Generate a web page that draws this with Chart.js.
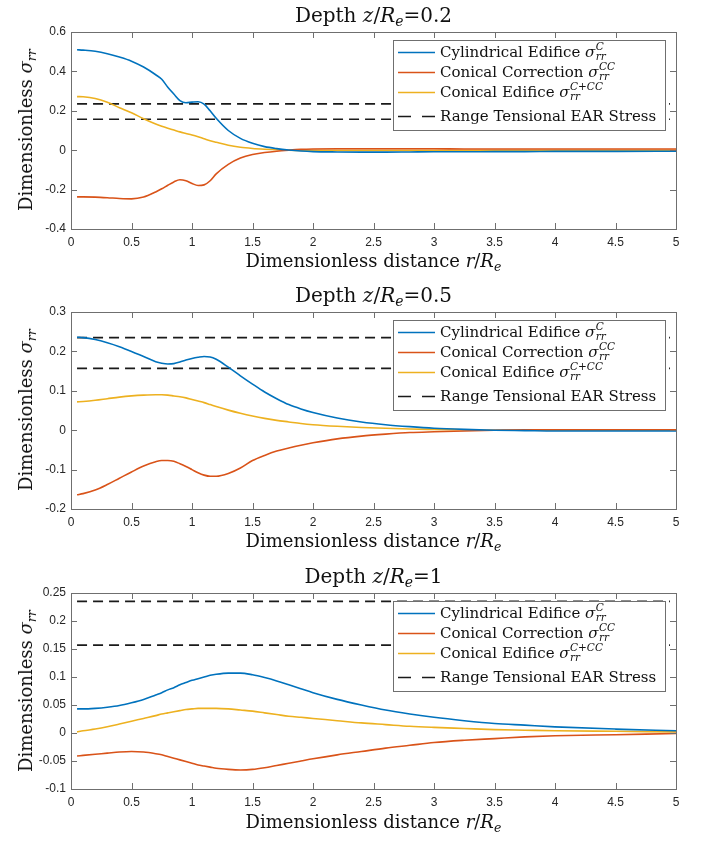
<!DOCTYPE html>
<html>
<head>
<meta charset="utf-8">
<script src="https://cdn.jsdelivr.net/npm/chart.js@4.4.1/dist/chart.umd.min.js"></script>
<style>
  body { margin: 0; background: #fff; }
  #fig { position: relative; width: 704px; height: 841px; overflow: hidden; }
  #fig canvas { position: absolute; left: 0; }
  .ttl, .xl, .yl {
    position: absolute;
    font-family: 'DejaVu Serif', 'Liberation Serif', serif;
    color: #111;
    white-space: nowrap;
    line-height: 1;
  }
  .ttl { left: 71px; width: 605px; text-align: center; font-size: 20px; }
  .xl { left: 71px; width: 605px; text-align: center; font-size: 18px; }
  .yl { left: 26px; font-size: 18px; transform: translate(-50%, -50%) rotate(-90deg); }
  sub { font-size: 0.7em; vertical-align: -0.3em; line-height: 0; }
</style>
</head>
<body>
<div id="fig"></div>
<script>
// radial distance r/Re where the curves were sampled
const rOverRe = [0.05, 0.1, 0.2, 0.3, 0.4, 0.5, 0.6, 0.7, 0.75, 0.8, 0.85, 0.9, 0.95, 1.0, 1.05,
                 1.1, 1.15, 1.2, 1.3, 1.4, 1.5, 1.6, 1.7, 1.8, 1.9, 2.0, 2.2, 2.4, 2.6, 2.8,
                 3.0, 3.25, 3.5, 3.75, 4.0, 4.5, 5.0];

// depth z/Re = 0.2
const cylZ02  = [0.510, 0.508, 0.502, 0.490, 0.473, 0.452, 0.422, 0.383, 0.360, 0.320, 0.285,
                 0.252, 0.241, 0.244, 0.246, 0.234, 0.200, 0.162, 0.100, 0.060, 0.035, 0.018,
                 0.008, 0.001, -0.004, -0.007, -0.009, -0.010, -0.010, -0.009, -0.008, -0.008,
                 -0.007, -0.007, -0.006, -0.006, -0.005];
const corrZ02 = [-0.237, -0.237, -0.238, -0.241, -0.245, -0.247, -0.238, -0.212, -0.196, -0.178,
                 -0.161, -0.150, -0.155, -0.169, -0.179, -0.176, -0.155, -0.120, -0.072, -0.040,
                 -0.022, -0.012, -0.005, 0.000, 0.004, 0.006, 0.007, 0.007, 0.007, 0.007, 0.007,
                 0.006, 0.006, 0.006, 0.006, 0.006, 0.006];
const coneZ02 = [0.272, 0.271, 0.262, 0.243, 0.216, 0.190, 0.160, 0.133, 0.121, 0.111, 0.102,
                 0.093, 0.085, 0.077, 0.068, 0.058, 0.048, 0.040, 0.025, 0.015, 0.009, 0.005,
                 0.002, 0.000, -0.001, -0.001, -0.001, -0.001, -0.001, -0.001, -0.001, -0.001,
                 -0.001, -0.001, -0.001, -0.001, -0.001];

// depth z/Re = 0.5
const cylZ05  = [0.236, 0.235, 0.230, 0.222, 0.212, 0.200, 0.187, 0.174, 0.170, 0.168, 0.169,
                 0.173, 0.178, 0.182, 0.185, 0.187, 0.186, 0.180, 0.160, 0.138, 0.117, 0.097,
                 0.080, 0.065, 0.054, 0.045, 0.031, 0.021, 0.014, 0.009, 0.005, 0.002, 0.000,
                 -0.001, -0.002, -0.002, -0.002];
const corrZ05 = [-0.164, -0.161, -0.152, -0.138, -0.122, -0.106, -0.091, -0.080, -0.077, -0.077,
                 -0.079, -0.085, -0.092, -0.100, -0.108, -0.114, -0.117, -0.117, -0.110, -0.096,
                 -0.077, -0.064, -0.053, -0.045, -0.038, -0.032, -0.022, -0.015, -0.010, -0.006,
                 -0.004, -0.002, 0.000, 0.001, 0.001, 0.001, 0.001];
const coneZ05 = [0.072, 0.073, 0.076, 0.080, 0.084, 0.087, 0.089, 0.090, 0.090, 0.089, 0.087,
                 0.085, 0.082, 0.078, 0.074, 0.070, 0.065, 0.060, 0.051, 0.043, 0.036, 0.030,
                 0.025, 0.021, 0.017, 0.014, 0.010, 0.007, 0.005, 0.003, 0.002, 0.001, 0.000,
                 0.000, 0.000, 0.000, 0.000];

// depth z/Re = 1
const cylZ1   = [0.043, 0.043, 0.044, 0.046, 0.049, 0.054, 0.060, 0.068, 0.072, 0.077, 0.081,
                 0.086, 0.090, 0.094, 0.097, 0.100, 0.103, 0.105, 0.107, 0.107, 0.104, 0.099,
                 0.093, 0.086, 0.079, 0.072, 0.060, 0.050, 0.041, 0.034, 0.028, 0.022, 0.017,
                 0.014, 0.011, 0.007, 0.004];
const corrZ1  = [-0.041, -0.040, -0.038, -0.036, -0.034, -0.033, -0.034, -0.037, -0.039, -0.042,
                 -0.045, -0.048, -0.051, -0.054, -0.057, -0.059, -0.061, -0.063, -0.065, -0.066,
                 -0.065, -0.062, -0.058, -0.054, -0.050, -0.046, -0.039, -0.033, -0.027, -0.022,
                 -0.017, -0.013, -0.010, -0.007, -0.005, -0.003, -0.001];
const coneZ1  = [0.002, 0.004, 0.007, 0.011, 0.016, 0.021, 0.026, 0.031, 0.034, 0.036, 0.038,
                 0.040, 0.042, 0.043, 0.044, 0.044, 0.044, 0.044, 0.043, 0.041, 0.039, 0.036,
                 0.033, 0.030, 0.028, 0.026, 0.022, 0.018, 0.015, 0.012, 0.010, 0.008, 0.006,
                 0.005, 0.004, 0.003, 0.002];

// tensional EAR stress range (upper, lower) and the r/Re span of the dashed guides
const earRange = [0.235, 0.157];
const earSpan = [0.05, 4.95];

const depths = ['0.2', '0.5', '1'];
const xTicks = [0, 0.5, 1, 1.5, 2, 2.5, 3, 3.5, 4, 4.5, 5];
const yTicksZ02 = [-0.4, -0.2, 0, 0.2, 0.4, 0.6];
const yTicksZ05 = [-0.2, -0.1, 0, 0.1, 0.2, 0.3];
const yTicksZ1 = [-0.1, -0.05, 0, 0.05, 0.1, 0.15, 0.2, 0.25];

const seriesNames = ['Cylindrical Edifice', 'Conical Correction', 'Conical Edifice', 'Range Tensional EAR Stress'];
const sigmaSup = ['C', 'CC', 'C+CC', null];
const lineColors = ['#0072BD', '#D95319', '#EDB120', '#1a1a1a'];

const SERIF = '"DejaVu Serif", "Liberation Serif", serif';
const AXIS_COLOR = '#6f6f6f';

Chart.defaults.font.family = "'Liberation Sans', Arial, sans-serif";
Chart.defaults.font.size = 12;
Chart.defaults.color = '#262626';

// legend box in the upper right corner, with the sigma symbols typeset by hand
const sigmaLegend = {
  id: 'sigmaLegend',
  afterDatasetsDraw(chart) {
    const { ctx, chartArea } = chart;
    const w = 272, h = 90;
    const x0 = chartArea.right - 11 - w;
    const y0 = chartArea.top + 8;
    const baselines = [17, 37, 57, 81];

    ctx.save();
    ctx.fillStyle = '#fff';
    ctx.fillRect(x0, y0, w, h);
    ctx.strokeStyle = AXIS_COLOR;
    ctx.lineWidth = 1;
    ctx.strokeRect(Math.round(x0) + 0.5, Math.round(y0) + 0.5, w, h);

    seriesNames.forEach((name, i) => {
      const by = y0 + baselines[i];
      const ly = Math.round(by - 5) + 0.5;
      ctx.strokeStyle = lineColors[i];
      ctx.lineWidth = 1.6;
      ctx.setLineDash(i === 3 ? [13, 11] : []);
      ctx.beginPath();
      ctx.moveTo(x0 + 5, ly);
      ctx.lineTo(x0 + 42, ly);
      ctx.stroke();
      ctx.setLineDash([]);

      ctx.fillStyle = '#111';
      ctx.textBaseline = 'alphabetic';
      ctx.textAlign = 'left';
      let tx = x0 + 47;
      ctx.font = '15px ' + SERIF;
      const text = sigmaSup[i] ? name + ' ' : name;
      ctx.fillText(text, tx, by);
      if (sigmaSup[i]) {
        tx += ctx.measureText(text).width;
        ctx.font = 'italic 15px ' + SERIF;
        ctx.fillText('σ', tx, by);
        tx += ctx.measureText('σ').width + 0.5;
        ctx.font = 'italic 10.5px ' + SERIF;
        ctx.fillText(sigmaSup[i], tx, by - 7);
        ctx.fillText('rr', tx, by + 3);
      }
    });
    ctx.restore();
  }
};

// box around the axes with inward ticks on all four sides
const boxTicks = {
  id: 'boxTicks',
  afterDraw(chart) {
    const { ctx, chartArea: a, scales } = chart;
    const len = 6;
    ctx.save();
    ctx.strokeStyle = AXIS_COLOR;
    ctx.lineWidth = 1;
    ctx.beginPath();
    scales.x.ticks.forEach(t => {
      const px = Math.round(scales.x.getPixelForValue(t.value)) + 0.5;
      if (px <= a.left + 1 || px >= a.right - 1) return;
      ctx.moveTo(px, a.bottom); ctx.lineTo(px, a.bottom - len);
      ctx.moveTo(px, a.top); ctx.lineTo(px, a.top + len);
    });
    scales.y.ticks.forEach(t => {
      const py = Math.round(scales.y.getPixelForValue(t.value)) + 0.5;
      if (py <= a.top + 1 || py >= a.bottom - 1) return;
      ctx.moveTo(a.left, py); ctx.lineTo(a.left + len, py);
      ctx.moveTo(a.right, py); ctx.lineTo(a.right - len, py);
    });
    ctx.stroke();
    ctx.strokeRect(Math.round(a.left) + 0.5, Math.round(a.top) + 0.5,
                   Math.round(a.right - a.left), Math.round(a.bottom - a.top));
    ctx.restore();
  }
};

function curve(ys) {
  return rOverRe.map((x, i) => ({ x: x, y: ys[i] }));
}

function makePanel(index, top, series, yTicks, axisHeight) {
  const fig = document.getElementById('fig');

  const canvas = document.createElement('canvas');
  canvas.width = 704;
  canvas.height = 280;
  canvas.style.top = top + 'px';
  fig.appendChild(canvas);

  const title = document.createElement('div');
  title.className = 'ttl';
  title.style.top = (top + 5) + 'px';
  title.innerHTML = 'Depth <i>z</i>/<i>R</i><sub><i>e</i></sub>=' + depths[index];
  fig.appendChild(title);

  const xl = document.createElement('div');
  xl.className = 'xl';
  xl.style.top = (top + 252) + 'px';
  xl.innerHTML = 'Dimensionless distance <i>r</i>/<i>R</i><sub><i>e</i></sub>';
  fig.appendChild(xl);

  const yl = document.createElement('div');
  yl.className = 'yl';
  yl.style.top = (top + 130) + 'px';
  yl.innerHTML = 'Dimensionless <i>σ</i><sub><i>rr</i></sub>';
  fig.appendChild(yl);

  const datasets = series.map((ys, i) => ({
    label: seriesNames[i],
    data: curve(ys),
    borderColor: lineColors[i],
    borderWidth: 1.6,
    cubicInterpolationMode: 'monotone'
  }));
  earRange.forEach(v => {
    datasets.push({
      label: seriesNames[3],
      data: earSpan.map(x => ({ x: x, y: v })),
      borderColor: lineColors[3],
      borderWidth: 1.6,
      borderDash: [10, 6]
    });
  });

  new Chart(canvas, {
    type: 'line',
    data: { datasets: datasets },
    options: {
      responsive: false,
      animation: false,
      devicePixelRatio: 1,
      layout: { padding: { top: 32, right: 28, left: 0, bottom: 0 } },
      elements: { point: { radius: 0 } },
      plugins: { legend: { display: false }, tooltip: { enabled: false } },
      scales: {
        x: {
          type: 'linear',
          min: 0,
          max: 5,
          grid: { display: false, drawTicks: false },
          border: { display: false },
          ticks: { padding: 6, maxRotation: 0, callback: v => String(v) },
          afterBuildTicks: s => { s.ticks = xTicks.map(v => ({ value: v })); },
          afterFit: s => { s.height = axisHeight; }
        },
        y: {
          type: 'linear',
          min: yTicks[0],
          max: yTicks[yTicks.length - 1],
          grid: { display: false, drawTicks: false },
          border: { display: false },
          ticks: { padding: 5, callback: v => String(v) },
          afterBuildTicks: s => { s.ticks = yTicks.map(v => ({ value: v })); },
          afterFit: s => { s.width = 71; }
        }
      }
    },
    plugins: [sigmaLegend, boxTicks]
  });
}

makePanel(0, 0, [cylZ02, corrZ02, coneZ02], yTicksZ02, 51);
makePanel(1, 280, [cylZ05, corrZ05, coneZ05], yTicksZ05, 51);
makePanel(2, 561, [cylZ1, corrZ1, coneZ1], yTicksZ1, 52);
</script>
</body>
</html>
